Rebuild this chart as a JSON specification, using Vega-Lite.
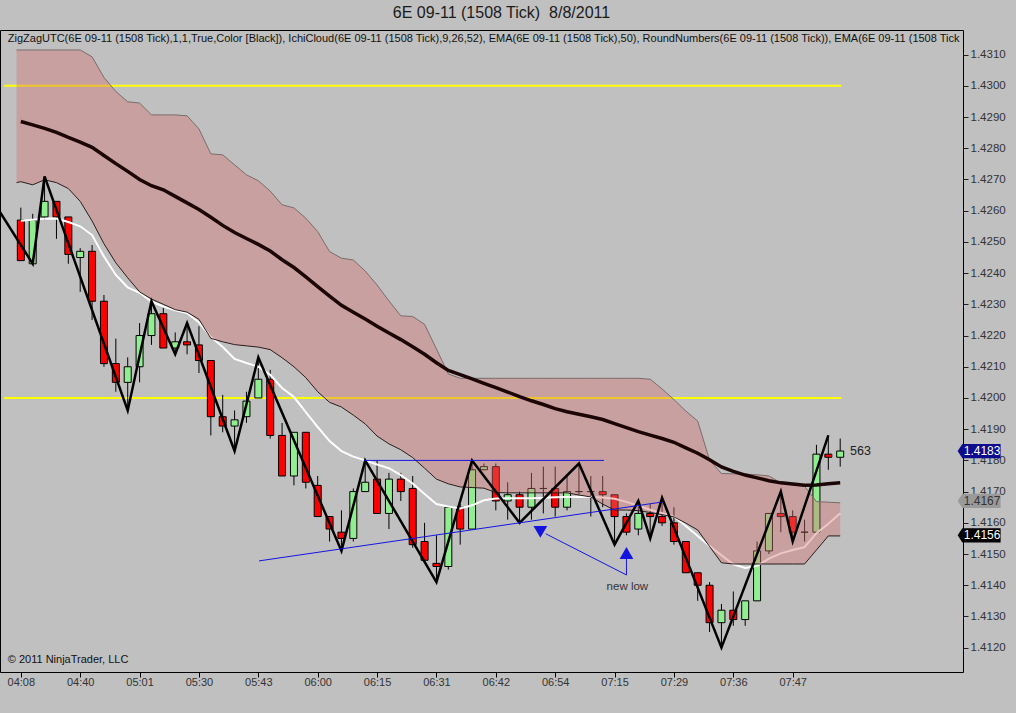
{
  "$schema": "https://vega.github.io/schema/vega-lite/v6.json",
  "width": 963,
  "height": 642,
  "autosize": {"type": "none"},
  "padding": {"left": 0, "top": 30, "right": 53, "bottom": 41},
  "background": "#C0C0C0",
  "title": {"text": "6E 09-11 (1508 Tick) \u00a08/8/2011", "fontSize": 16, "font": "Liberation Sans", "fontWeight": "normal", "color": "#1a1a1a", "anchor": "middle", "dx": 20, "offset": 9},
  "config": {"view": {"stroke": "black", "strokeWidth": 1, "fill": "#C0C0C0"}},
  "datasets": {
    "candles": [
      {"i":0,"o":1.4257,"h":1.4261,"l":1.4244,"c":1.4244},
      {"i":1,"o":1.4243,"h":1.4259,"l":1.4243,"c":1.4257},
      {"i":2,"o":1.4258,"h":1.4271,"l":1.4257,"c":1.4263},
      {"i":3,"o":1.4263,"h":1.4263,"l":1.4251,"c":1.4258},
      {"i":4,"o":1.4258,"h":1.4258,"l":1.4243,"c":1.4246},
      {"i":5,"o":1.4245,"h":1.4248,"l":1.4234,"c":1.4247},
      {"i":6,"o":1.4247,"h":1.4249,"l":1.4225,"c":1.4231},
      {"i":7,"o":1.4231,"h":1.4233,"l":1.4210,"c":1.4211},
      {"i":8,"o":1.4211,"h":1.4219,"l":1.4202,"c":1.4205},
      {"i":9,"o":1.4205,"h":1.4213,"l":1.4196,"c":1.4210},
      {"i":10,"o":1.4210,"h":1.4224,"l":1.4205,"c":1.4220},
      {"i":11,"o":1.4220,"h":1.4231,"l":1.4217,"c":1.4227},
      {"i":12,"o":1.4227,"h":1.4229,"l":1.4216,"c":1.4216},
      {"i":13,"o":1.4216,"h":1.4221,"l":1.4214,"c":1.4218},
      {"i":14,"o":1.4218,"h":1.4224,"l":1.4214,"c":1.4217},
      {"i":15,"o":1.4217,"h":1.4223,"l":1.4208,"c":1.4212},
      {"i":16,"o":1.4212,"h":1.4212,"l":1.4188,"c":1.4194},
      {"i":17,"o":1.4194,"h":1.4201,"l":1.4189,"c":1.4191},
      {"i":18,"o":1.4191,"h":1.4196,"l":1.4183,"c":1.4193},
      {"i":19,"o":1.4194,"h":1.4202,"l":1.4192,"c":1.4199},
      {"i":20,"o":1.4200,"h":1.4213,"l":1.4200,"c":1.4206},
      {"i":21,"o":1.4206,"h":1.4209,"l":1.4187,"c":1.4188},
      {"i":22,"o":1.4188,"h":1.4192,"l":1.4175,"c":1.4175},
      {"i":23,"o":1.4175,"h":1.4189,"l":1.4172,"c":1.4189},
      {"i":24,"o":1.4189,"h":1.4189,"l":1.4171,"c":1.4173},
      {"i":25,"o":1.4172,"h":1.4175,"l":1.4162,"c":1.4162},
      {"i":26,"o":1.4162,"h":1.4162,"l":1.4154,"c":1.4158},
      {"i":27,"o":1.4157,"h":1.4164,"l":1.4151,"c":1.4155},
      {"i":28,"o":1.4155,"h":1.4171,"l":1.4154,"c":1.4170},
      {"i":29,"o":1.4170,"h":1.4180,"l":1.4170,"c":1.4173},
      {"i":30,"o":1.4174,"h":1.4180,"l":1.4163,"c":1.4163},
      {"i":31,"o":1.4163,"h":1.4176,"l":1.4158,"c":1.4174},
      {"i":32,"o":1.4174,"h":1.4176,"l":1.4167,"c":1.4170},
      {"i":33,"o":1.4171,"h":1.4175,"l":1.4152,"c":1.4153},
      {"i":34,"o":1.4154,"h":1.4160,"l":1.4148,"c":1.4148},
      {"i":35,"o":1.4147,"h":1.4156,"l":1.4141,"c":1.4146},
      {"i":36,"o":1.4146,"h":1.4165,"l":1.4145,"c":1.4165},
      {"i":37,"o":1.4165,"h":1.4166,"l":1.4153,"c":1.4158},
      {"i":38,"o":1.4158,"h":1.4180,"l":1.4158,"c":1.4177},
      {"i":39,"o":1.4177,"h":1.4179,"l":1.4177,"c":1.4178},
      {"i":40,"o":1.4178,"h":1.4179,"l":1.4164,"c":1.4167},
      {"i":41,"o":1.4167,"h":1.4173,"l":1.4161,"c":1.4169},
      {"i":42,"o":1.4169,"h":1.4170,"l":1.4160,"c":1.4165},
      {"i":43,"o":1.4165,"h":1.4176,"l":1.4161,"c":1.4171},
      {"i":44,"o":1.4171,"h":1.4178,"l":1.4163,"c":1.4171},
      {"i":45,"o":1.4171,"h":1.4178,"l":1.4162,"c":1.4165},
      {"i":46,"o":1.4165,"h":1.4175,"l":1.4164,"c":1.4170},
      {"i":47,"o":1.4170,"h":1.4179,"l":1.4169,"c":1.4170},
      {"i":48,"o":1.4170,"h":1.4175,"l":1.4162,"c":1.4170},
      {"i":49,"o":1.4170,"h":1.4175,"l":1.4165,"c":1.4169},
      {"i":50,"o":1.4169,"h":1.4169,"l":1.4153,"c":1.4162},
      {"i":51,"o":1.4162,"h":1.4163,"l":1.4156,"c":1.4157},
      {"i":52,"o":1.4158,"h":1.4167,"l":1.4156,"c":1.4163},
      {"i":53,"o":1.4163,"h":1.4166,"l":1.4155,"c":1.4162},
      {"i":54,"o":1.4162,"h":1.4168,"l":1.4159,"c":1.4160},
      {"i":55,"o":1.4160,"h":1.4165,"l":1.4153,"c":1.4154},
      {"i":56,"o":1.4154,"h":1.4154,"l":1.4144,"c":1.4144},
      {"i":57,"o":1.4144,"h":1.4144,"l":1.4135,"c":1.4140},
      {"i":58,"o":1.4140,"h":1.4141,"l":1.4125,"c":1.4128},
      {"i":59,"o":1.4128,"h":1.4134,"l":1.4120,"c":1.4132},
      {"i":60,"o":1.4132,"h":1.4138,"l":1.4127,"c":1.4129},
      {"i":61,"o":1.4129,"h":1.4135,"l":1.4127,"c":1.4135},
      {"i":62,"o":1.4135,"h":1.4154,"l":1.4135,"c":1.4151},
      {"i":63,"o":1.4151,"h":1.4163,"l":1.4150,"c":1.4163},
      {"i":64,"o":1.4163,"h":1.4170,"l":1.4157,"c":1.4162},
      {"i":65,"o":1.4162,"h":1.4164,"l":1.4154,"c":1.4157},
      {"i":66,"o":1.4157,"h":1.4161,"l":1.4154,"c":1.4157},
      {"i":67,"o":1.4157,"h":1.4185,"l":1.4157,"c":1.4182},
      {"i":68,"o":1.4182,"h":1.4188,"l":1.4177,"c":1.4181},
      {"i":69,"o":1.4181,"h":1.4187,"l":1.4178,"c":1.4183}
    ],
    "ind": [
      {"i":-0.36,"ema":null,"e50":null,"top":1.43115,"bot":1.42690},
      {"i":0,"ema":1.42568,"e50":1.42886,"top":1.43115,"bot":1.42693},
      {"i":1,"ema":1.42571,"e50":1.42875,"top":1.43115,"bot":1.42683},
      {"i":2,"ema":1.42574,"e50":1.42864,"top":1.43115,"bot":1.42699},
      {"i":3,"ema":1.42575,"e50":1.42851,"top":1.43115,"bot":1.42690},
      {"i":4,"ema":1.42564,"e50":1.42835,"top":1.43115,"bot":1.42671},
      {"i":5,"ema":1.42550,"e50":1.42820,"top":1.43115,"bot":1.42630},
      {"i":6,"ema":1.42522,"e50":1.42803,"top":1.43093,"bot":1.42567},
      {"i":7,"ema":1.42453,"e50":1.42777,"top":1.43027,"bot":1.42494},
      {"i":8,"ema":1.42394,"e50":1.42751,"top":1.42982,"bot":1.42433},
      {"i":9,"ema":1.42354,"e50":1.42726,"top":1.42949,"bot":1.42385},
      {"i":10,"ema":1.42337,"e50":1.42700,"top":1.42945,"bot":1.42340},
      {"i":11,"ema":1.42309,"e50":1.42680,"top":1.42907,"bot":1.42317},
      {"i":12,"ema":1.42293,"e50":1.42667,"top":1.42907,"bot":1.42300},
      {"i":13,"ema":1.42281,"e50":1.42646,"top":1.42907,"bot":1.42283},
      {"i":14,"ema":1.42272,"e50":1.42625,"top":1.42904,"bot":1.42275},
      {"i":15,"ema":1.42242,"e50":1.42604,"top":1.42862,"bot":1.42252},
      {"i":16,"ema":1.42196,"e50":1.42579,"top":1.42782,"bot":1.42191},
      {"i":17,"ema":1.42163,"e50":1.42553,"top":1.42779,"bot":1.42180},
      {"i":18,"ema":1.42125,"e50":1.42530,"top":1.42747,"bot":1.42171},
      {"i":19,"ema":1.42112,"e50":1.42511,"top":1.42715,"bot":1.42167},
      {"i":20,"ema":1.42100,"e50":1.42492,"top":1.42696,"bot":1.42163},
      {"i":21,"ema":1.42074,"e50":1.42471,"top":1.42663,"bot":1.42155},
      {"i":22,"ema":1.42032,"e50":1.42443,"top":1.42619,"bot":1.42129},
      {"i":23,"ema":1.42003,"e50":1.42418,"top":1.42609,"bot":1.42100},
      {"i":24,"ema":1.41955,"e50":1.42388,"top":1.42576,"bot":1.42065},
      {"i":25,"ema":1.41907,"e50":1.42357,"top":1.42533,"bot":1.42020},
      {"i":26,"ema":1.41862,"e50":1.42326,"top":1.42469,"bot":1.41986},
      {"i":27,"ema":1.41830,"e50":1.42297,"top":1.42448,"bot":1.41971},
      {"i":28,"ema":1.41812,"e50":1.42275,"top":1.42442,"bot":1.41945},
      {"i":29,"ema":1.41800,"e50":1.42253,"top":1.42407,"bot":1.41917},
      {"i":30,"ema":1.41787,"e50":1.42230,"top":1.42362,"bot":1.41878},
      {"i":31,"ema":1.41775,"e50":1.42208,"top":1.42311,"bot":1.41853},
      {"i":32,"ema":1.41753,"e50":1.42187,"top":1.42263,"bot":1.41834},
      {"i":33,"ema":1.41726,"e50":1.42164,"top":1.42261,"bot":1.41809},
      {"i":34,"ema":1.41692,"e50":1.42140,"top":1.42236,"bot":1.41775},
      {"i":35,"ema":1.41660,"e50":1.42113,"top":1.42157,"bot":1.41740},
      {"i":36,"ema":1.41652,"e50":1.42088,"top":1.42077,"bot":1.41725},
      {"i":37,"ema":1.41646,"e50":1.42075,"top":1.42063,"bot":1.41715},
      {"i":38,"ema":1.41656,"e50":1.42061,"top":1.42063,"bot":1.41713},
      {"i":39,"ema":1.41672,"e50":1.42047,"top":1.42063,"bot":1.41711},
      {"i":40,"ema":1.41678,"e50":1.42033,"top":1.42063,"bot":1.41697},
      {"i":41,"ema":1.41679,"e50":1.42019,"top":1.42063,"bot":1.41696},
      {"i":42,"ema":1.41679,"e50":1.42004,"top":1.42063,"bot":1.41696},
      {"i":43,"ema":1.41679,"e50":1.41991,"top":1.42063,"bot":1.41696},
      {"i":44,"ema":1.41680,"e50":1.41979,"top":1.42063,"bot":1.41696},
      {"i":45,"ema":1.41682,"e50":1.41966,"top":1.42063,"bot":1.41696},
      {"i":46,"ema":1.41683,"e50":1.41956,"top":1.42063,"bot":1.41696},
      {"i":47,"ema":1.41683,"e50":1.41948,"top":1.42063,"bot":1.41689},
      {"i":48,"ema":1.41683,"e50":1.41940,"top":1.42063,"bot":1.41683},
      {"i":49,"ema":1.41681,"e50":1.41931,"top":1.42063,"bot":1.41660},
      {"i":50,"ema":1.41677,"e50":1.41918,"top":1.42063,"bot":1.41641},
      {"i":51,"ema":1.41667,"e50":1.41905,"top":1.42063,"bot":1.41641},
      {"i":52,"ema":1.41655,"e50":1.41892,"top":1.42063,"bot":1.41639},
      {"i":53,"ema":1.41642,"e50":1.41881,"top":1.42060,"bot":1.41633},
      {"i":54,"ema":1.41631,"e50":1.41870,"top":1.42029,"bot":1.41626},
      {"i":55,"ema":1.41620,"e50":1.41858,"top":1.41995,"bot":1.41619},
      {"i":56,"ema":1.41590,"e50":1.41840,"top":1.41958,"bot":1.41599},
      {"i":57,"ema":1.41558,"e50":1.41823,"top":1.41926,"bot":1.41577},
      {"i":58,"ema":1.41526,"e50":1.41802,"top":1.41801,"bot":1.41524},
      {"i":59,"ema":1.41496,"e50":1.41779,"top":1.41758,"bot":1.41472},
      {"i":60,"ema":1.41467,"e50":1.41765,"top":1.41757,"bot":1.41468},
      {"i":61,"ema":1.41455,"e50":1.41753,"top":1.41756,"bot":1.41468},
      {"i":62,"ema":1.41462,"e50":1.41744,"top":1.41754,"bot":1.41468},
      {"i":63,"ema":1.41485,"e50":1.41735,"top":1.41750,"bot":1.41468},
      {"i":64,"ema":1.41502,"e50":1.41728,"top":1.41728,"bot":1.41468},
      {"i":65,"ema":1.41513,"e50":1.41724,"top":1.41722,"bot":1.41468},
      {"i":66,"ema":1.41522,"e50":1.41720,"top":1.41717,"bot":1.41468},
      {"i":67,"ema":1.41567,"e50":1.41721,"top":1.41668,"bot":1.41513},
      {"i":68,"ema":1.41597,"e50":1.41725,"top":1.41666,"bot":1.41558},
      {"i":69,"ema":1.41631,"e50":1.41728,"top":1.41664,"bot":1.41558}
    ],
    "zigzag": [
      {"i":-2,"p":1.4261},{"i":1,"p":1.4243},{"i":2,"p":1.4271},{"i":9,"p":1.4196},
      {"i":11,"p":1.4231},{"i":13,"p":1.4214},{"i":14,"p":1.4224},{"i":18,"p":1.4183},
      {"i":20,"p":1.4213},{"i":27,"p":1.4151},{"i":29,"p":1.4180},{"i":35,"p":1.4141},
      {"i":38,"p":1.4180},{"i":42,"p":1.4160},{"i":47,"p":1.4179},{"i":50,"p":1.4153},
      {"i":52,"p":1.4167},{"i":53,"p":1.4155},{"i":54,"p":1.4168},{"i":59,"p":1.4120},
      {"i":64,"p":1.4170},{"i":65,"p":1.4154},{"i":68,"p":1.4188}
    ],
    "round": [
      {"i":-1.4,"i2":69.1,"p":1.43},
      {"i":-1.4,"i2":69.1,"p":1.42}
    ],
    "drawn": [
      {"i":28.9,"p":1.4180,"i2":49.1,"p2":1.4180},
      {"i":20.06,"p":1.41478,"i2":53.9,"p2":1.41666},
      {"i":51.0,"p":1.41433,"i2":44.2,"p2":1.41565},
      {"i":51.0,"p":1.41433,"i2":51.0,"p2":1.41500}
    ],
    "heads": [
      {"i":43.75,"p":1.41571,"dir":"down"},
      {"i":51.0,"p":1.41503,"dir":"up"}
    ],
    "tags": [
      {"i":80.7,"ti":80.95,"p":1.4183,"t":"1.4183","kind":"last"},
      {"i":80.7,"ti":80.95,"p":1.4167,"t":"1.4167","kind":"spanA"},
      {"i":80.7,"ti":80.95,"p":1.4156,"t":"1.4156","kind":"spanB"}
    ]
  },
  "layer": [
    {
      "data": {"name": "round"},
      "mark": {"type": "rule", "color": "#FFFF00", "strokeWidth": 2},
      "encoding": {
        "x": {"field": "i", "type": "quantitative", "scale": {"domain": [-1.333, 78.92], "nice": false, "zero": false},
          "axis": {"title": null, "values": [0,5,10,15,20,25,30,35,40,45,50,55,60,65], "tickCount": 30, "grid": false, "domain": false, "tickSize": 5, "tickColor": "#000", "labelPadding": -1, "labelOverlap": false, "labelFont": "Liberation Sans", "labelFontSize": 11, "labelColor": "#333",
            "labelExpr": "['04:08','04:40','05:01','05:30','05:43','06:00','06:15','06:31','06:42','06:54','07:15','07:29','07:36','07:47'][round(datum.value/5)]"}},
        "x2": {"field": "i2"},
        "y": {"field": "p", "type": "quantitative", "scale": {"domain": [1.41122, 1.43179], "nice": false, "zero": false},
          "axis": {"title": null, "orient": "right", "values": [1.412,1.413,1.414,1.415,1.416,1.417,1.418,1.419,1.42,1.421,1.422,1.423,1.424,1.425,1.426,1.427,1.428,1.429,1.43,1.431], "tickCount": 30, "format": ".4f", "grid": false, "domain": false, "tickSize": 5, "tickColor": "#222", "labelPadding": 2, "labelOverlap": false, "labelFont": "Liberation Sans", "labelFontSize": 11.5, "labelColor": "#333"}}
      }
    },
    {
      "data": {"name": "candles"},
      "mark": {"type": "rule", "color": "#000", "strokeWidth": 1},
      "encoding": {
        "x": {"field": "i", "type": "quantitative"},
        "y": {"field": "l", "type": "quantitative"},
        "y2": {"field": "h"}
      }
    },
    {
      "data": {"name": "candles"},
      "mark": {"type": "bar", "width": 7, "stroke": "#000", "strokeWidth": 1},
      "encoding": {
        "x": {"field": "i", "type": "quantitative"},
        "y": {"field": "o", "type": "quantitative"},
        "y2": {"field": "c"},
        "fill": {"condition": {"test": "datum.c > datum.o", "value": "#90EE90"}, "value": "#FF0000"}
      }
    },
    {
      "data": {"name": "ind"},
      "mark": {"type": "line", "color": "#FFFFFF", "strokeWidth": 2},
      "encoding": {
        "x": {"field": "i", "type": "quantitative"},
        "y": {"field": "ema", "type": "quantitative"}
      }
    },
    {
      "data": {"name": "ind"},
      "mark": {"type": "area", "fill": "#D47070", "fillOpacity": 0.4},
      "encoding": {
        "x": {"field": "i", "type": "quantitative"},
        "y": {"field": "top", "type": "quantitative"},
        "y2": {"field": "bot"}
      }
    },
    {
      "data": {"name": "ind"},
      "mark": {"type": "line", "color": "#7a6c6c", "strokeWidth": 1},
      "encoding": {
        "x": {"field": "i", "type": "quantitative"},
        "y": {"field": "top", "type": "quantitative"}
      }
    },
    {
      "data": {"name": "ind"},
      "mark": {"type": "line", "color": "#2a1c1c", "strokeWidth": 1},
      "encoding": {
        "x": {"field": "i", "type": "quantitative"},
        "y": {"field": "bot", "type": "quantitative"}
      }
    },
    {
      "data": {"name": "ind"},
      "mark": {"type": "line", "color": "#1c0505", "strokeWidth": 3.5},
      "encoding": {
        "x": {"field": "i", "type": "quantitative"},
        "y": {"field": "e50", "type": "quantitative"}
      }
    },
    {
      "data": {"name": "zigzag"},
      "mark": {"type": "line", "color": "#000", "strokeWidth": 2.5, "clip": true},
      "encoding": {
        "x": {"field": "i", "type": "quantitative"},
        "y": {"field": "p", "type": "quantitative"}
      }
    },
    {
      "data": {"name": "drawn"},
      "mark": {"type": "rule", "color": "#1414E0", "strokeWidth": 1},
      "encoding": {
        "x": {"field": "i", "type": "quantitative"},
        "y": {"field": "p", "type": "quantitative"},
        "x2": {"field": "i2"},
        "y2": {"field": "p2"}
      }
    },
    {
      "data": {"name": "heads"},
      "mark": {"type": "point", "filled": true, "color": "#1414E0", "opacity": 1, "size": 190},
      "encoding": {
        "x": {"field": "i", "type": "quantitative"},
        "y": {"field": "p", "type": "quantitative"},
        "shape": {"field": "dir", "type": "nominal", "scale": {"domain": ["down", "up"], "range": ["triangle-down", "triangle-up"]}, "legend": null}
      }
    },
    {
      "data": {"values": [{"i": 51.08, "p": 1.41394, "t": "new low"}]},
      "mark": {"type": "text", "font": "Liberation Sans", "fontSize": 11.5, "color": "#333", "align": "center", "baseline": "middle"},
      "encoding": {
        "x": {"field": "i", "type": "quantitative"},
        "y": {"field": "p", "type": "quantitative"},
        "text": {"field": "t"}
      }
    },
    {
      "data": {"values": [{"i": 69.83, "p": 1.4183, "t": "563"}]},
      "mark": {"type": "text", "font": "Liberation Sans", "fontSize": 12.5, "color": "#222", "align": "left", "baseline": "middle"},
      "encoding": {
        "x": {"field": "i", "type": "quantitative"},
        "y": {"field": "p", "type": "quantitative"},
        "text": {"field": "t"}
      }
    },
    {
      "data": {"values": [
        {"i": -1.1, "p": 1.43151, "t": "ZigZagUTC(6E 09-11 (1508 Tick),1,1,True,Color [Black]), IchiCloud(6E 09-11 (1508 Tick),9,26,52), EMA(6E 09-11 (1508 Tick),50), RoundNumbers(6E 09-11 (1508 Tick)), EMA(6E 09-11 (1508 Tick"},
        {"i": -1.1, "p": 1.4116, "t": "© 2011 NinjaTrader, LLC"}
      ]},
      "mark": {"type": "text", "font": "Liberation Sans", "fontSize": 11, "color": "#111", "align": "left", "baseline": "middle", "limit": 958, "ellipsis": ""},
      "encoding": {
        "x": {"field": "i", "type": "quantitative"},
        "y": {"field": "p", "type": "quantitative"},
        "text": {"field": "t"}
      }
    },
    {
      "data": {"name": "tags"},
      "mark": {"type": "point", "filled": true, "opacity": 1, "size": 1850, "shape": "M-1,0L-0.78,-0.33L1,-0.33L1,0.33L-0.78,0.33Z"},
      "encoding": {
        "x": {"field": "i", "type": "quantitative"},
        "y": {"field": "p", "type": "quantitative"},
        "fill": {"field": "kind", "type": "nominal", "scale": {"domain": ["last", "spanA", "spanB"], "range": ["#0C0C8C", "#9A9A9A", "#000000"]}, "legend": null}
      }
    },
    {
      "data": {"name": "tags"},
      "mark": {"type": "text", "font": "Liberation Sans", "fontSize": 12, "align": "center", "baseline": "middle"},
      "encoding": {
        "x": {"field": "ti", "type": "quantitative"},
        "y": {"field": "p", "type": "quantitative"},
        "text": {"field": "t"},
        "color": {"field": "kind", "type": "nominal", "scale": {"domain": ["last", "spanA", "spanB"], "range": ["#FFFFFF", "#333333", "#FFFFFF"]}, "legend": null}
      }
    }
  ]
}
